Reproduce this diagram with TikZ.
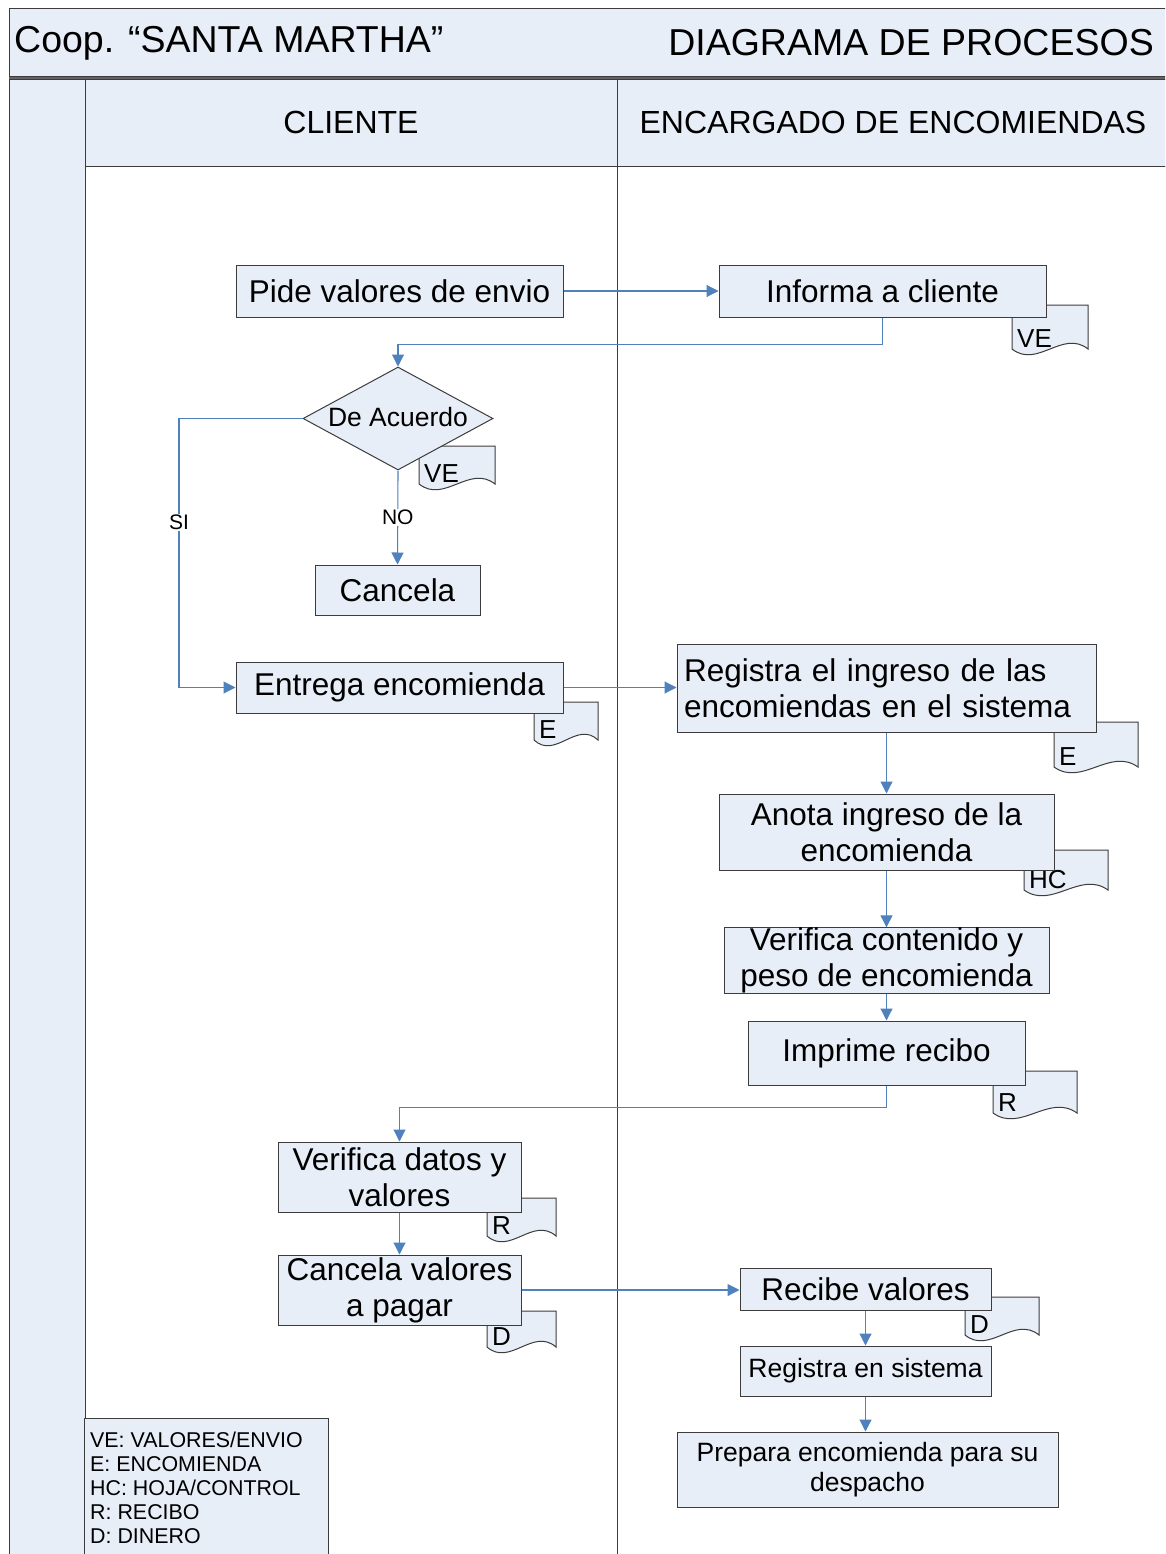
\documentclass[tikz,border=0pt]{standalone}
\usepackage{fontspec}
\setmainfont{Liberation Sans}
\usetikzlibrary{arrows.meta,shapes.geometric,calc}

\definecolor{boxfill}{HTML}{E8EEF7}
\definecolor{edgegray}{HTML}{3C3C3C}
\definecolor{flowblue}{HTML}{4F81BD}

\tikzset{
  x=1pt, y=-1pt,
  frame/.style={draw=edgegray, line width=1pt},
  proc/.style={draw=edgegray, line width=1pt, fill=boxfill, inner sep=0pt,
    align=center, font=\fontsize{31.5}{36}\selectfont},
  procsmall/.style={proc, font=\fontsize{26.5}{30}\selectfont},
  flow/.style={draw=flowblue, line width=1.1pt,
    -{Triangle[length=12pt,width=12pt]}},
  flowlabel/.style={fill=white, inner sep=1pt, font=\fontsize{21}{24}\selectfont},
  doclabel/.style={anchor=base west, inner sep=0pt, font=\fontsize{26}{28}\selectfont},
  legendline/.style={anchor=base west, inner sep=0pt, font=\fontsize{21.4}{24}\selectfont},
}

% document symbol: left, top, right, bottom, label, node name
\newcommand\docsheet[6]{%
  \filldraw[fill=boxfill, draw=edgegray, line width=1pt]
    (#1,#2) -- (#3,#2) -- (#3,#4)
    .. controls ({#3-(#3-#1)/3},{#4-20}) and ({#1+(#3-#1)/3},{#4+20}) ..
    (#1,#4) -- cycle;
  \node[doclabel] (#6) at ({#1+5},{#4-1.5}) {#5};
}

\begin{document}
\begin{tikzpicture}
\useasboundingbox (0,0) rectangle (1165,1554);
\clip (0,0) rectangle (1165,1554);

% ---- frame, title band and swimlanes
\filldraw[frame, fill=boxfill] (9,9) rectangle (1180,77);
\draw[draw=edgegray!80, line width=3pt] (9,78.5) -- (1180,78.5);
\filldraw[frame, fill=boxfill] (9,80) rectangle (85,1570);
\filldraw[frame, fill=boxfill] (85,80) rectangle (1180,167);
\filldraw[frame, fill=white] (85,167) rectangle (1180,1570);
\draw[frame] (617,80) -- (617,1570);

\node[anchor=west, inner sep=0pt, font=\fontsize{37.5}{40}\selectfont] (ttl) at (14,43) {Coop. “SANTA MARTHA”};
\node[anchor=east, inner sep=0pt, font=\fontsize{37.5}{40}\selectfont] (ttr) at (1154,43) {DIAGRAMA DE PROCESOS};
\node[font=\fontsize{32}{36}\selectfont, inner sep=0pt] (laneA) at (351,122) {CLIENTE};
\node[font=\fontsize{32}{36}\selectfont, inner sep=0pt] (laneB) at (893,122) {ENCARGADO DE ENCOMIENDAS};

% ---- document symbols (behind the activities)
\docsheet{1012}{305}{1088}{349}{VE}{dveA}
\docsheet{419}{446}{495}{484}{VE}{dveB}
\docsheet{534}{702}{598}{740}{E}{deA}
\docsheet{1054}{722}{1138}{767}{E}{deB}
\docsheet{1024}{850}{1108}{890}{HC}{dhc}
\docsheet{993}{1071}{1077}{1113}{R}{drA}
\docsheet{487}{1198}{556}{1236}{R}{drB}
\docsheet{487}{1311}{556}{1347}{D}{ddA}
\docsheet{965}{1297}{1039}{1335}{D}{ddB}

% ---- activities
\node[proc, minimum width=327, minimum height=52] (pide) at (399.5,291) {Pide valores de envio};
\node[proc, minimum width=327, minimum height=52] (inf) at (882.5,291) {Informa a cliente};
\node[draw=edgegray, line width=1pt, fill=boxfill, shape=diamond, inner sep=0pt,
      minimum width=190, minimum height=103] (dec) at (398,418.5) {};
\node[font=\fontsize{26.5}{30}\selectfont, inner sep=0pt] (dectxt) at (398,417) {De Acuerdo};
\node[proc, minimum width=165, minimum height=50] (canc) at (397.5,590) {Cancela};
\node[proc, minimum width=327, minimum height=51] (ent) at (399.5,687.5) {Entrega encomienda};
\node[proc, minimum width=419, minimum height=88, text width=405, align=left] (reg) at (886.5,688)
  {Registra el ingreso de las\\encomiendas en el sistema};
\node[proc, minimum width=335, minimum height=76] (anota) at (886.5,832) {Anota ingreso de la\\encomienda};
\node[proc, minimum width=325, minimum height=65] (vcont) at (886.5,960.5) {Verifica contenido y\\peso de encomienda};
\node[proc, minimum width=277, minimum height=64] (impr) at (886.5,1053) {Imprime recibo};
\node[proc, minimum width=243, minimum height=70] (vdat) at (399.5,1177) {Verifica datos y\\valores};
\node[proc, minimum width=243, minimum height=70] (cval) at (399.5,1290) {Cancela valores\\a pagar};
\node[proc, minimum width=251, minimum height=42] (rec) at (865.5,1289) {Recibe valores};
\node[procsmall, minimum width=251, minimum height=50] (rsis) at (865.5,1371) {Registra en sistema};
\node[procsmall, minimum width=381, minimum height=75] (prep) at (867.5,1469.5) {Prepara encomienda para su\\despacho};

% ---- legend
\filldraw[frame, fill=boxfill] (84,1418) rectangle (328,1570);
\node[legendline] (lg1) at (90,1447) {VE: VALORES/ENVIO};
\node[legendline] (lg2) at (90,1471) {E: ENCOMIENDA};
\node[legendline] (lg3) at (90,1495) {HC: HOJA/CONTROL};
\node[legendline] (lg4) at (90,1519) {R: RECIBO};
\node[legendline] (lg5) at (90,1543) {D: DINERO};

% ---- connectors
\coordinate (siturn) at (179,418.5);
\coordinate (sicorner) at (179,687.5);
\draw[flow] (pide.east) -- (inf.west);
\draw[flow] (inf.south) -- ++(0,27) -| (dec.north);
\draw[flow] (dec.south) -- node[flowlabel, pos=0.5]{NO} (canc.north);
\draw[flow] (dec.west) -- (siturn) -- node[flowlabel, pos=0.385]{SI} (sicorner) -- (ent.west);
\draw[flow] (ent.east) -- (ent.east -| reg.west);
\draw[flow] (reg.south) -- (anota.north);
\draw[flow] (anota.south) -- (vcont.north);
\draw[flow] (vcont.south) -- (impr.north);
\draw[flow] (impr.south) -- ++(0,22) -| (vdat.north);
\draw[flow] (vdat.south) -- (cval.north);
\draw[flow] (cval.east) -- (cval.east -| rec.west);
\draw[flow] (rec.south) -- (rsis.north);
\draw[flow] (rsis.south) -- (rsis.south |- prep.north);
\end{tikzpicture}
\end{document}
